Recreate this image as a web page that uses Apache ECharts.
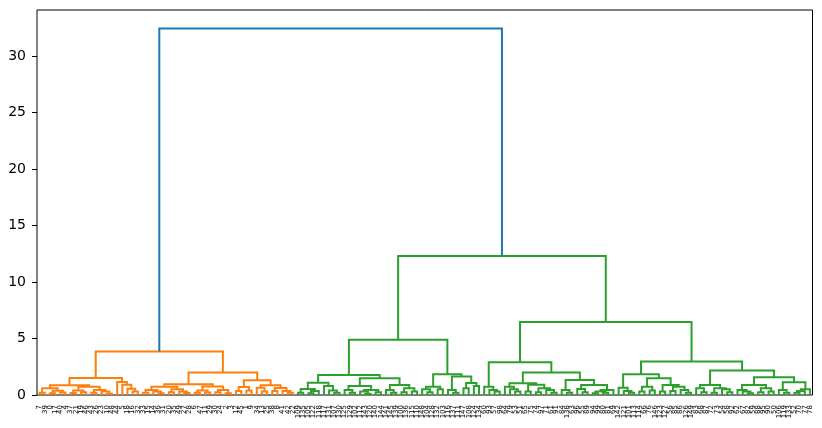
<!DOCTYPE html>
<html>
<head>
<meta charset="utf-8">
<script src="https://cdn.jsdelivr.net/npm/echarts@6/dist/echarts.min.js"></script>
<style>
html, body { margin: 0; padding: 0; background: #fff; }
#chart { width: 822px; height: 428px; }
</style>
</head>
<body>
<div id="chart"></div>
<script>
// leaf labels, left to right
const leafLabels = [
  7, 39, 0, 17, 40, 4, 37, 21, 19, 46, 43, 26, 23, 10, 48, 44, 5, 18, 16, 32,
  33, 15, 14, 36, 31, 20, 35, 49, 27, 28, 6, 47, 11, 29, 30, 24, 2, 3, 12, 45,
  1, 9, 34, 13, 25, 38, 8, 41, 42, 22,
  109, 135, 105, 122, 118, 117, 131, 107, 130, 125, 129, 102, 112, 143, 120, 140, 144, 141, 145, 139,
  100, 136, 115, 110, 148, 104, 128, 132, 103, 116, 137, 111, 147, 108, 124, 134,
  60, 93, 57, 98, 64, 79, 53, 51, 65, 75, 74, 97, 71, 61, 91, 84,
  138, 63, 96, 55, 89, 94, 99, 80, 81, 69,
  142, 121, 101, 113, 114, 66, 76, 146, 123, 127, 56, 85, 86, 126, 149,
  83, 68, 87, 72, 73, 54, 58, 92, 62, 67, 82, 59, 88, 95, 90, 50,
  106, 119, 133, 52, 70, 77, 78
]

// height where leaf i and leaf i+1 first end up in the same cluster
const joinHeights = [
  0.2, 0.6, 0.15, 0.38, 0.22, 0.86, 0.18, 0.4, 0.25, 0.72,
  0.2, 0.45, 0.3, 0.12, 1.5, 1.15, 0.9, 0.55, 0.3, 3.85,
  0.2, 0.45, 0.3, 0.15, 0.72, 0.25, 0.5, 0.32, 0.18, 0.95,
  0.2, 0.4, 0.22, 0.75, 0.25, 0.45, 0.15, 2.0, 0.35, 0.71,
  0.4, 1.3, 0.65, 0.3, 0.86, 0.35, 0.62, 0.35, 0.2, 32.44,
  0.2, 0.53, 0.15, 0.35, 1.09, 0.8, 0.4, 0.2, 1.77, 0.45,
  0.2, 0.8, 0.3, 0.12, 0.45, 0.25, 1.48, 0.44, 0.2, 0.88,
  0.25, 0.59, 0.3, 4.88, 0.5, 0.25, 0.74, 0.5, 1.84, 0.44,
  0.2, 1.63, 0.6, 1.07, 0.8, 12.3, 0.74, 0.45, 0.3, 2.9,
  0.74, 0.5, 0.3, 1.03, 0.3, 0.9, 0.25, 0.6, 0.44, 0.2,
  2.0, 0.44, 0.2, 1.33, 0.53, 0.25, 0.89, 0.15, 0.3, 0.2,
  0.44, 6.45, 0.65, 0.35, 0.2, 1.84, 0.3, 0.74, 0.4, 1.48,
  0.3, 0.88, 0.35, 0.74, 0.45, 0.2, 2.96, 0.59, 0.25, 0.89,
  0.2, 0.59, 0.5, 0.25, 2.16, 0.44, 0.3, 0.15, 0.89, 0.25,
  0.59, 0.3, 1.57, 0.44, 0.2, 1.13, 0.2, 0.35, 0.5
]

const yTicks = [0, 5, 10, 15, 20, 25, 30]
const yMax = 34.07

const aboveColor = '#1f77b4'
const clusterColors = ['#ff7f0e', '#2ca02c']
const threshold = 0.7 * Math.max(...joinHeights)

// walk the tree: the highest join inside a range splits it in two
const links = {}
let nextColor = 0
function build(a, b, color) {
  if (a === b) return { x: 5 + 10 * a, h: 0 }
  let k = a
  for (let i = a; i < b; i++) {
    if (joinHeights[i] > joinHeights[k]) k = i
  }
  const h = joinHeights[k]
  let c = color
  if (!c && h < threshold) c = clusterColors[nextColor++ % clusterColors.length]
  const left = build(a, k, c)
  const right = build(k + 1, b, c)
  const linkColor = c || aboveColor
  if (!links[linkColor]) links[linkColor] = []
  links[linkColor].push([[left.x, left.h], [left.x, h], [right.x, h], [right.x, right.h]])
  return { x: (left.x + right.x) / 2, h: h }
}
build(0, leafLabels.length - 1, null)

const series = Object.keys(links).map(c => ({
  type: 'lines',
  coordinateSystem: 'cartesian2d',
  xAxisIndex: 1,
  yAxisIndex: 0,
  polyline: true,
  silent: true,
  lineStyle: { color: c, width: 2, opacity: 1 },
  data: links[c].map(p => ({ coords: p }))
}))

const chart = echarts.init(document.getElementById('chart'))
chart.setOption({
  animation: false,
  grid: {
    left: 37,
    right: 9.5,
    top: 10,
    bottom: 33,
    show: true,
    borderColor: '#000',
    borderWidth: 1
  },
  xAxis: [
    {
      type: 'category',
      data: leafLabels.map(String),
      boundaryGap: true,
      axisLine: { show: false },
      axisTick: { show: false },
      axisLabel: {
        interval: 0,
        rotate: 90,
        fontSize: 7,
        margin: 10,
        color: '#000',
        fontFamily: 'DejaVu Sans'
      },
      splitLine: { show: false }
    },
    {
      type: 'value',
      min: 0,
      max: leafLabels.length * 10,
      show: false
    }
  ],
  yAxis: {
    type: 'value',
    min: 0,
    max: yMax,
    interval: 5,
    axisLine: { show: false },
    axisTick: { show: true, length: 5, customValues: yTicks, lineStyle: { color: '#000', width: 1 } },
    axisLabel: {
      fontSize: 14,
      color: '#000',
      margin: 11,
      fontFamily: 'DejaVu Sans',
      customValues: yTicks
    },
    splitLine: { show: false }
  },
  series: series
})
</script>
</body>
</html>
